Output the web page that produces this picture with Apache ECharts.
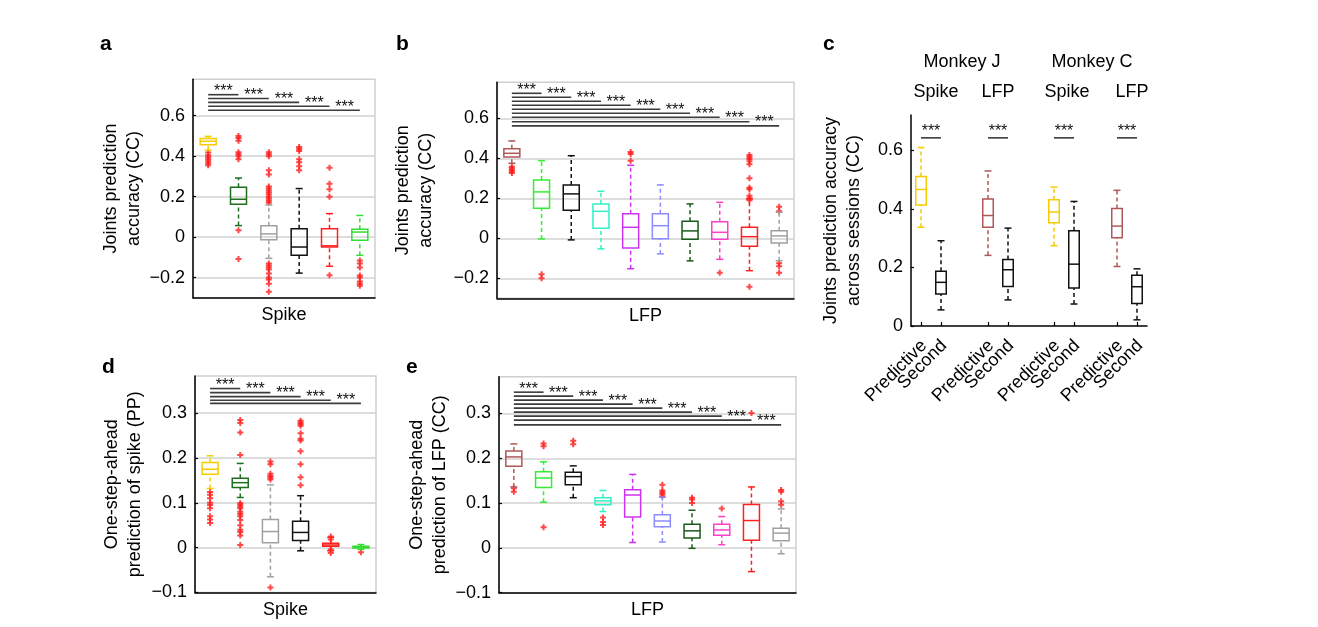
<!DOCTYPE html>
<html>
<head>
<meta charset="UTF-8">
<title>Joints prediction boxplots</title>
<script src="https://cdn.jsdelivr.net/npm/echarts@6/dist/echarts.min.js"></script>
<style>
  html, body { margin: 0; padding: 0; background: #fff; }
  #main { width: 1318px; height: 627px; }
</style>
</head>
<body>
<div id="main"></div>
<script>
// ---- data ----
// each box: [lower whisker, q1, median, q3, upper whisker]
var spikeCats = ['S1', 'S2', 'S3', 'S4', 'S5', 'S6'];
var lfpCats = ['L1', 'L2', 'L3', 'L4', 'L5', 'L6', 'L7', 'L8', 'L9', 'L10'];

var spikeColors = ['#f7cc00', '#1f6f1f', '#a0a0a0', '#111111', '#ff2020', '#33dd33'];
var lfpColors = ['#b05858', '#33ee33', '#111111', '#33f0c8', '#cc33f0', '#8c8cff', '#1a5a1a', '#ff40c8', '#ff2020', '#a0a0a0'];

var aBoxes = [
  [0.43, 0.457, 0.474, 0.487, 0.498],
  [0.057, 0.162, 0.187, 0.246, 0.292],
  [-0.105, -0.013, 0.016, 0.056, 0.159],
  [-0.178, -0.09, -0.049, 0.041, 0.24],
  [-0.144, -0.049, -0.043, 0.041, 0.116],
  [-0.09, -0.016, 0.025, 0.039, 0.107]
];
var aOut = [
  [0.418, 0.405, 0.395, 0.385, 0.375, 0.365, 0.355],
  [0.50, 0.49, 0.476, 0.42, 0.41, 0.40, 0.385, 0.034, -0.108],
  [0.42, 0.41, 0.40, 0.33, 0.31, 0.25, 0.24, 0.23, 0.22, 0.21, 0.20, 0.19, 0.18, 0.17,
   -0.13, -0.14, -0.15, -0.16, -0.18, -0.20, -0.21, -0.23, -0.27],
  [0.445, 0.435, 0.425, 0.385, 0.37, 0.35, 0.33],
  [0.343, 0.264, 0.236, 0.20, -0.189],
  [-0.116, -0.13, -0.15, -0.19, -0.20, -0.22, -0.23, -0.24]
];
var aSig = [0.704, 0.685, 0.666, 0.647, 0.627];

var bBoxes = [
  [0.375, 0.407, 0.425, 0.448, 0.487],
  [-0.003, 0.15, 0.232, 0.292, 0.388],
  [-0.008, 0.14, 0.222, 0.267, 0.413],
  [-0.053, 0.05, 0.135, 0.172, 0.235],
  [-0.152, -0.048, 0.055, 0.123, 0.365],
  [-0.078, -0.002, 0.063, 0.123, 0.267],
  [-0.113, -0.005, 0.037, 0.085, 0.172],
  [-0.105, -0.005, 0.03, 0.083, 0.18],
  [-0.162, -0.04, 0.008, 0.055, 0.197],
  [-0.112, -0.023, 0.012, 0.038, 0.13]
];
var bOut = [
  [0.358, 0.35, 0.342, 0.334, 0.326],
  [-0.18, -0.2],
  [],
  [],
  [0.432, 0.422, 0.388],
  [],
  [],
  [-0.172],
  [0.417, 0.407, 0.397, 0.385, 0.37, 0.30, 0.253, 0.245, 0.213, 0.20, 0.19, -0.242],
  [0.158, 0.135, -0.125, -0.14, -0.172]
];
var bSig = [0.725, 0.705, 0.685, 0.665, 0.645, 0.625, 0.605, 0.583, 0.562];

var cPos = [0.5, 1.5, 3.85, 4.85, 7.15, 8.15, 10.3, 11.3];
var cLabels = ['Predictive', 'Second', 'Predictive', 'Second', 'Predictive', 'Second', 'Predictive', 'Second'];
var cColors = ['#f7cc00', '#111111', '#b05858', '#111111', '#f7cc00', '#111111', '#b05858', '#111111'];
var cBoxes = [
  [0.337, 0.413, 0.466, 0.51, 0.609],
  [0.055, 0.109, 0.149, 0.187, 0.291],
  [0.241, 0.337, 0.377, 0.433, 0.529],
  [0.089, 0.135, 0.192, 0.227, 0.334],
  [0.274, 0.352, 0.389, 0.431, 0.474],
  [0.075, 0.13, 0.211, 0.325, 0.425],
  [0.203, 0.301, 0.341, 0.401, 0.463],
  [0.021, 0.077, 0.134, 0.173, 0.195]
];
var cSig = [[0.5, 1.5, 0.642], [3.85, 4.85, 0.642], [7.15, 8.15, 0.642], [10.3, 11.3, 0.642]];

var dBoxes = [
  [0.132, 0.164, 0.175, 0.19, 0.205],
  [0.112, 0.134, 0.145, 0.155, 0.188],
  [-0.065, 0.011, 0.036, 0.063, 0.14],
  [-0.007, 0.016, 0.034, 0.059, 0.116],
  [-0.007, 0.003, 0.006, 0.01, 0.023],
  [-0.004, -0.001, 0.001, 0.003, 0.007]
];
var dOut = [
  [0.124, 0.118, 0.11, 0.10, 0.095, 0.088, 0.07, 0.063, 0.055],
  [0.285, 0.278, 0.257, 0.207, 0.099, 0.096, 0.092, 0.088, 0.08, 0.075, 0.07, 0.062, 0.05, 0.04, 0.035, 0.027, 0.006],
  [0.192, 0.186, 0.165, 0.16, 0.156, 0.152, -0.089],
  [0.283, 0.279, 0.276, 0.272, 0.255, 0.243, 0.239, 0.215, 0.186, 0.157, 0.139],
  [0.025, 0.018, -0.004, -0.012],
  [-0.01]
];
var dSig = [0.355, 0.346, 0.337, 0.329, 0.322];

var eBoxes = [
  [0.136, 0.182, 0.203, 0.216, 0.232],
  [0.102, 0.135, 0.156, 0.17, 0.192],
  [0.112, 0.141, 0.159, 0.169, 0.183],
  [0.081, 0.096, 0.105, 0.112, 0.128],
  [0.012, 0.069, 0.118, 0.13, 0.164],
  [0.013, 0.047, 0.06, 0.074, 0.113],
  [-0.001, 0.022, 0.038, 0.053, 0.084],
  [0.007, 0.028, 0.04, 0.053, 0.07],
  [-0.053, 0.017, 0.061, 0.097, 0.136],
  [-0.013, 0.016, 0.033, 0.044, 0.087]
];
var eOut = [
  [0.133, 0.125],
  [0.233, 0.227, 0.046],
  [0.239, 0.231],
  [0.068, 0.058, 0.051],
  [],
  [0.141, 0.128, 0.124, 0.12, 0.115],
  [0.112, 0.108, 0.1],
  [0.088],
  [0.301],
  [0.129, 0.125, 0.104, 0.096]
];
var eSig = [0.3475, 0.3386, 0.3297, 0.3208, 0.3119, 0.3029, 0.294, 0.2851, 0.2746];

var ccTicks = [-0.2, 0, 0.2, 0.4, 0.6];
var ppTicks = [-0.1, 0, 0.1, 0.2, 0.3];
var cTicks = [0, 0.2, 0.4, 0.6];

// ---- helpers ----
var FONT = '"Liberation Sans", Arial, Helvetica, sans-serif';
var PLUS = 'path://M1,0H2V1H3V2H2V3H1V2H0V1H1Z';

function fmtTick(v) {
  return v === 0 ? '0' : String(v).replace('-', '\u2212');
}

function boxRenderer(boxW, capW) {
  return function (params, api) {
    var x = api.value(0);
    var cx = api.coord([x, api.value(3)])[0];
    var y = [1, 2, 3, 4, 5].map(function (d) { return api.coord([x, api.value(d)])[1]; });
    var color = api.visual('color');
    var hw = boxW / 2, hc = capW / 2;
    var solid = { stroke: color, lineWidth: 1.5, fill: 'none' };
    var dash = { stroke: color, lineWidth: 1.5, lineDash: [4, 3] };
    return {
      type: 'group',
      children: [
        { type: 'line', shape: { x1: cx, y1: y[0], x2: cx, y2: y[1] }, style: dash },
        { type: 'line', shape: { x1: cx, y1: y[3], x2: cx, y2: y[4] }, style: dash },
        { type: 'line', shape: { x1: cx - hc, y1: y[0], x2: cx + hc, y2: y[0] }, style: solid },
        { type: 'line', shape: { x1: cx - hc, y1: y[4], x2: cx + hc, y2: y[4] }, style: solid },
        { type: 'rect', shape: { x: cx - hw, y: y[3], width: boxW, height: y[1] - y[3] }, style: solid },
        { type: 'line', shape: { x1: cx - hw, y1: y[2], x2: cx + hw, y2: y[2] }, style: solid }
      ]
    };
  };
}

function sigRenderer(starDy) {
  return function (params, api) {
    var from = api.value(0), to = api.value(1), v = api.value(2);
    var p0 = api.coord([from, v]), p1 = api.coord([to, v]), pm = api.coord([to - 1, v]);
    return {
      type: 'group',
      children: [
        { type: 'line', shape: { x1: p0[0], y1: p0[1], x2: p1[0], y2: p1[1] },
          style: { stroke: '#3c3c3c', lineWidth: 1.6 } },
        { type: 'text', x: (pm[0] + p1[0]) / 2, y: p1[1] - starDy,
          style: { text: '***', font: '16px ' + FONT, fill: '#111',
                   align: 'center', verticalAlign: 'middle',
                   textAlign: 'center', textVerticalAlign: 'middle' } }
      ]
    };
  };
}

// rotated tick labels for the value axis of panel c
function tickLabelRenderer(labels) {
  return function (params, api) {
    var p = api.coord([api.value(0), api.value(1)]);
    return {
      type: 'text', x: p[0] + 3, y: p[1] + 17, rotation: Math.PI / 4,
      style: { text: labels[params.dataIndex], font: '18px ' + FONT, fill: '#000',
               align: 'right', verticalAlign: 'middle',
               textAlign: 'right', textVerticalAlign: 'middle' }
    };
  };
}

var grids = [], xAxes = [], yAxes = [], series = [];

function addPanel(p) {
  var gi = grids.length;
  var xs = p.xs || p.boxes.map(function (b, i) { return i; });
  grids.push({
    left: p.left, top: p.top, width: p.width, height: p.height,
    show: p.frame, borderColor: '#cfcfcf', borderWidth: 1.5, backgroundColor: '#fff',
    outerBoundsMode: 'none'
  });

  var axisLine = { show: true, onZero: false, lineStyle: { color: '#000', width: 1.5 } };
  var nameStyle = { fontSize: 18, fontFamily: FONT, color: '#000', lineHeight: 23 };

  if (p.cats) {
    xAxes.push({
      gridIndex: gi, type: 'category', data: p.cats, boundaryGap: true,
      axisLine: axisLine,
      axisTick: { inside: true, length: 4, alignWithLabel: true, lineStyle: { color: '#000', width: 1.2 } },
      axisLabel: { show: false },
      splitLine: { show: false },
      name: p.xName, nameLocation: 'middle', nameGap: 6, nameTextStyle: nameStyle
    });
  } else {
    xAxes.push({
      gridIndex: gi, type: 'value', min: p.xMin, max: p.xMax,
      axisLine: axisLine,
      axisTick: { inside: true, length: 4, customValues: xs, lineStyle: { color: '#000', width: 1.2 } },
      axisLabel: { show: false },
      splitLine: { show: false }
    });
    series.push({
      type: 'custom', xAxisIndex: gi, yAxisIndex: gi, silent: true, z: 5,
      renderItem: tickLabelRenderer(p.xLabels),
      encode: { x: 0, y: 1 },
      data: xs.map(function (v) { return [v, p.yMin]; })
    });
  }

  yAxes.push({
    gridIndex: gi, type: 'value', min: p.yMin, max: p.yMax,
    axisLine: axisLine,
    axisTick: { show: true, inside: true, length: 3, customValues: p.yTicks, lineStyle: { color: '#000', width: 1.2 } },
    axisLabel: { customValues: p.yTicks, formatter: fmtTick, fontSize: 18, fontFamily: FONT, color: '#000', margin: 8 },
    splitLine: { show: p.frame, lineStyle: { color: '#d2d2d2', width: 1.5 } },
    name: p.yName, nameLocation: 'middle', nameRotate: 90, nameGap: p.yNameGap, nameTextStyle: nameStyle
  });

  var outData = [];
  (p.outliers || []).forEach(function (list, i) {
    list.forEach(function (v) { outData.push([xs[i], v]); });
  });

  series.push({
    type: 'scatter', xAxisIndex: gi, yAxisIndex: gi, silent: true, z: 2,
    symbol: PLUS, symbolSize: 6, itemStyle: { color: '#ff1a1a' },
    data: outData
  });
  series.push({
    type: 'custom', xAxisIndex: gi, yAxisIndex: gi, silent: true, z: 3,
    renderItem: boxRenderer(p.boxW, 7),
    encode: { x: 0, y: [1, 2, 3, 4, 5] },
    data: p.boxes.map(function (b, i) {
      return { value: [xs[i]].concat(b), itemStyle: { color: p.colors[i] } };
    })
  });
  series.push({
    type: 'custom', xAxisIndex: gi, yAxisIndex: gi, silent: true, z: 4,
    renderItem: sigRenderer(p.starDy),
    encode: { x: [0, 1], y: 2 },
    data: p.sig
  });
}

function fromFirst(levels) {
  return levels.map(function (v, i) { return [0, i + 1, v]; });
}

addPanel({
  left: 193, top: 79.3, width: 182, height: 218.5, frame: true,
  cats: spikeCats, boxes: aBoxes, colors: spikeColors, outliers: aOut, sig: fromFirst(aSig),
  yMin: -0.3, yMax: 0.78, yTicks: ccTicks, boxW: 16, starDy: 3,
  xName: 'Spike', yName: 'Joints prediction\naccuracy (CC)', yNameGap: 46
});
addPanel({
  left: 497, top: 82.3, width: 297, height: 216, frame: true,
  cats: lfpCats, boxes: bBoxes, colors: lfpColors, outliers: bOut, sig: fromFirst(bSig),
  yMin: -0.3, yMax: 0.78, yTicks: ccTicks, boxW: 16, starDy: 3,
  xName: 'LFP', yName: 'Joints prediction\naccuracy (CC)', yNameGap: 59
});
addPanel({
  left: 911, top: 115, width: 236, height: 211, frame: false,
  xs: cPos, xLabels: cLabels, xMin: 0, xMax: 11.8,
  boxes: cBoxes, colors: cColors, outliers: [], sig: cSig,
  yMin: 0, yMax: 0.72, yTicks: cTicks, boxW: 10.5, starDy: 6,
  yName: 'Joints prediction accuracy\nacross sessions (CC)', yNameGap: 45
});
addPanel({
  left: 195, top: 376, width: 181, height: 216.5, frame: true,
  cats: spikeCats, boxes: dBoxes, colors: spikeColors, outliers: dOut, sig: fromFirst(dSig),
  yMin: -0.1, yMax: 0.383, yTicks: ppTicks, boxW: 16, starDy: 3,
  xName: 'Spike', yName: 'One-step-ahead\nprediction of spike (PP)', yNameGap: 48
});
addPanel({
  left: 499, top: 376.7, width: 297, height: 216, frame: true,
  cats: lfpCats, boxes: eBoxes, colors: lfpColors, outliers: eOut, sig: fromFirst(eSig),
  yMin: -0.1, yMax: 0.382, yTicks: ppTicks, boxW: 16, starDy: 3,
  xName: 'LFP', yName: 'One-step-ahead\nprediction of LFP (CC)', yNameGap: 47
});

// ---- panel letters and group headers ----
function label(text, x, y, size, weight, align) {
  return {
    type: 'text', x: x, y: y, silent: true,
    style: {
      text: text, font: (weight || 'normal') + ' ' + size + 'px ' + FONT, fill: '#000',
      textAlign: align || 'center', textVerticalAlign: 'middle',
      align: align || 'center', verticalAlign: 'middle'
    }
  };
}

var graphics = [
  label('a', 100, 44, 21, 'bold', 'left'),
  label('b', 396, 44, 21, 'bold', 'left'),
  label('c', 823, 44, 21, 'bold', 'left'),
  label('d', 102, 367, 21, 'bold', 'left'),
  label('e', 406, 367, 21, 'bold', 'left'),
  label('Monkey J', 962, 62, 18),
  label('Monkey C', 1092, 62, 18),
  label('Spike', 936, 92, 18),
  label('LFP', 998, 92, 18),
  label('Spike', 1067, 92, 18),
  label('LFP', 1132, 92, 18)
];

var chart = echarts.init(document.getElementById('main'), null, { renderer: 'canvas' });
chart.setOption({
  backgroundColor: '#fff',
  animation: false,
  textStyle: { fontFamily: FONT },
  grid: grids,
  xAxis: xAxes,
  yAxis: yAxes,
  series: series,
  graphic: graphics
});
</script>
</body>
</html>
